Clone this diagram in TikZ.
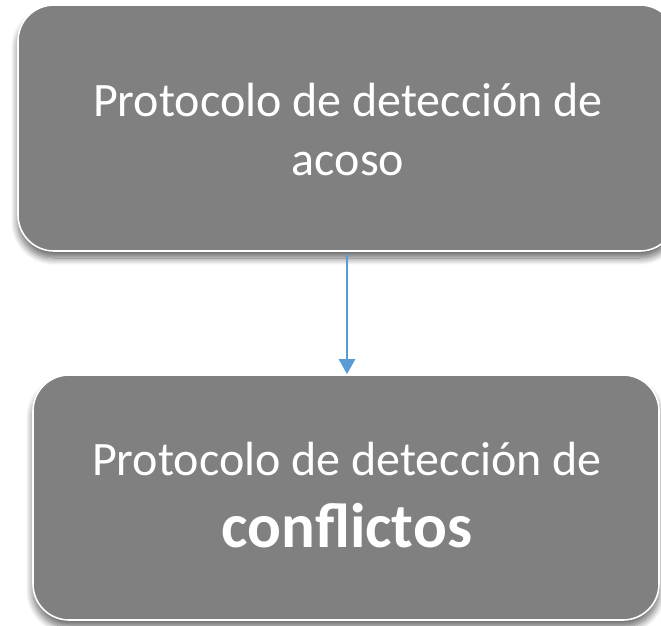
\documentclass[tikz,border=0pt]{standalone}
\usepackage{fontspec}
\setmainfont{Carlito}
\usetikzlibrary{shadows.blur,arrows.meta}
\definecolor{boxgray}{HTML}{808080}
\definecolor{arrowblue}{HTML}{5B9BD5}
\tikzset{
  box/.style={draw=white, line width=1.6pt, fill=boxgray, rounded corners=36pt,
    blur shadow={shadow xshift=0pt, shadow yshift=-7pt, shadow blur steps=12, shadow blur radius=7pt, shadow opacity=60},
    inner sep=0pt},
  txt/.style={text=white, inner sep=0pt, font=\fontsize{48}{56}\selectfont},
  bigtxt/.style={text=white, inner sep=0pt, font=\fontsize{63}{72}\selectfont\bfseries},
  conn/.style={draw=arrowblue, line width=2.2pt, -{Triangle[length=15pt,width=16pt]}}
}
\begin{document}
\begin{tikzpicture}[x=1pt,y=-1pt]
\useasboundingbox (0,0) rectangle (661,625);
\node[box, minimum width=658pt, minimum height=246pt] (top) at (347,128) {};
\node[box, minimum width=626pt, minimum height=245pt] (bot) at (346,497.5) {};
\node[txt, anchor=base] (t1) at (348,116) {Protocolo de detección de};
\node[txt, anchor=base] (t2) at (348,175) {acoso};
\node[txt, anchor=base] (b1) at (347,475) {Protocolo de detección de};
\node[bigtxt, anchor=base] (b2) at (347,547) {conflictos};
\draw[conn] (top.south -| 347,0) ++(0,2) coordinate (a1) -- (bot.north -| 347,0);
\end{tikzpicture}
\end{document}
